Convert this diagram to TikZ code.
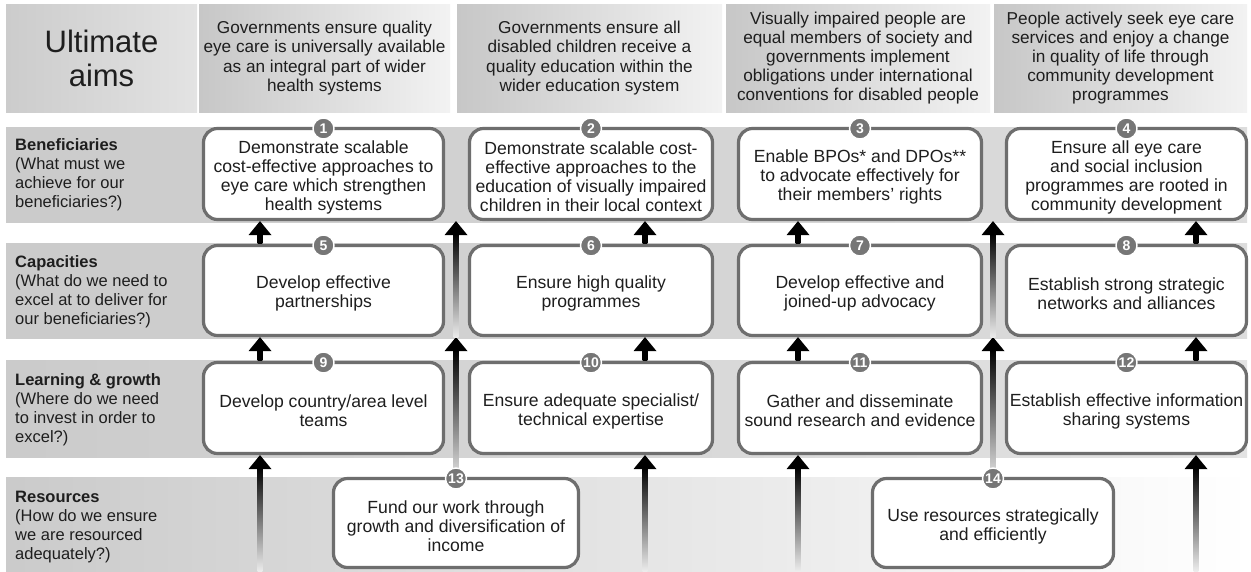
\documentclass[tikz,border=0pt]{standalone}
\usepackage{fontspec}
\setmainfont{Liberation Sans}
\usetikzlibrary{calc}
\definecolor{boxline}{HTML}{6E6E6E}
\definecolor{txt}{HTML}{1E1E1E}
\definecolor{numfill}{HTML}{767676}
\tikzset{
  box/.style={draw=boxline, line width=3.2pt, rounded corners=14pt, fill=white, align=center, text=txt,
    font=\fontsize{17.6}{19}\selectfont, inner sep=0pt},
  aimtxt/.style={align=center, text=txt, font=\fontsize{17.2}{19.2}\selectfont, inner sep=0pt},
  lab/.style={align=left, anchor=west, text=txt, font=\fontsize{16.5}{19}\selectfont, inner sep=0pt},
  num/.style={circle, fill=numfill, draw=white, line width=1.4pt, text=white,
    font=\bfseries\fontsize{14}{14}\selectfont, inner sep=0pt, minimum size=21pt},
}
\newcommand\tstr{\rule{0pt}{19pt}}
\newcommand\farrow[3]{%
  \shade[top color=black, bottom color=#3] ($(#1)+(-2.4,0)$) rectangle ($(#2)+(2.4,12)$);
  \fill ($(#2)$) -- ($(#2)+(-11.5,14)$) -- ($(#2)+(11.5,14)$) -- cycle;}
\begin{document}
\begin{tikzpicture}[x=1pt,y=-1pt]
\useasboundingbox (0,0) rectangle (1251,571);
\fill[white] (0,0) rectangle (1251,571);
% ---- Ultimate aims row
\shade[left color=gray!40, right color=gray!22] (6,4) rectangle (197,112);
\shade[left color=gray!44, right color=gray!10] (199,4) rectangle (450,112);
\shade[left color=gray!44, right color=gray!10] (457,4) rectangle (722,112);
\shade[left color=gray!44, right color=gray!10] (726,4) rectangle (990,112);
\shade[left color=gray!44, right color=gray!10] (994,4) rectangle (1247,112);
\node[aimtxt, font=\fontsize{31}{34}\selectfont] (ua) at (101.5,58) {Ultimate\\aims};
\node[aimtxt] (a1) at (324.5,58) {Governments ensure quality\\eye care is universally available\\as an integral part of wider\\health systems};
\node[aimtxt] (a2) at (589.5,58) {Governments ensure all\\disabled children receive a\\quality education within the\\wider education system};
\node[aimtxt] (a3) at (858,58) {Visually impaired people are\\equal members of society and\\governments implement\\obligations under international\\conventions for disabled people};
\node[aimtxt] (a4) at (1120.5,58) {People actively seek eye care\\services and enjoy a change\\in quality of life through\\community development\\programmes};
% ---- bands
\shade[left color=gray!41, right color=gray!27] (6,127) rectangle (1247,222);
\shade[left color=gray!41, right color=gray!27] (6,243) rectangle (1247,338);
\shade[left color=gray!41, right color=gray!22] (6,360) rectangle (1247,457);
\shade[left color=gray!41, middle color=gray!30, right color=white] (6,477) rectangle (1251,571);
% ---- row labels
\node[lab] (l1) at (15,174.5) {\textbf{Beneficiaries}\\(What must we\\achieve for our\\beneficiaries?)};
\node[lab] (l2) at (15,292) {\textbf{Capacities}\\(What do we need to\\excel at to deliver for\\our beneficiaries?)};
\node[lab] (l3) at (15,410) {\textbf{Learning \& growth}\\(Where do we need\\to invest in order to\\excel?)};
\node[lab] (l4) at (15,527) {\textbf{Resources}\\(How do we ensure\\we are resourced\\adequately?)};
% ---- boxes
\node[box, minimum width=240pt, minimum height=91pt] (b1) at (323.5,174) {\tstr Demonstrate scalable\\cost-effective approaches to\\eye care which strengthen\\health systems};
\node[box, minimum width=243pt, minimum height=91pt] (b2) at (591,174) {\tstr Demonstrate scalable cost-\\effective approaches to the\\education of visually impaired\\children in their local context};
\node[box, minimum width=243pt, minimum height=91pt] (b3) at (860,174) {\tstr Enable BPOs* and DPOs**\\to advocate effectively for\\their members' rights};
\node[box, minimum width=240pt, minimum height=91pt] (b4) at (1126.5,174) {\tstr Ensure all eye care\\and social inclusion\\programmes are rooted in\\community development};
\node[box, minimum width=240pt, minimum height=90pt] (b5) at (323.5,290.5) {\tstr Develop effective\\partnerships};
\node[box, minimum width=243pt, minimum height=90pt] (b6) at (591,290.5) {\tstr Ensure high quality\\programmes};
\node[box, minimum width=243pt, minimum height=90pt] (b7) at (860,290.5) {\tstr Develop effective and\\joined-up advocacy};
\node[box, minimum width=240pt, minimum height=90pt] (b8) at (1126.5,290.5) {\tstr Establish strong strategic\\networks and alliances};
\node[box, minimum width=240pt, minimum height=91pt] (b9) at (323.5,408) {\tstr Develop country/area level\\teams};
\node[box, minimum width=243pt, minimum height=91pt] (b10) at (591,408) {\tstr Ensure adequate specialist/\\technical expertise};
\node[box, minimum width=243pt, minimum height=91pt] (b11) at (860,408) {\tstr Gather and disseminate\\sound research and evidence};
\node[box, minimum width=240pt, minimum height=91pt] (b12) at (1126.5,408) {\tstr Establish effective information\\sharing systems};
\node[box, minimum width=245pt, minimum height=89pt] (b13) at (456,523) {\tstr Fund our work through\\growth and diversification of\\income};
\node[box, minimum width=241pt, minimum height=89pt] (b14) at (993,523) {\tstr Use resources strategically\\and efficiently};
% ---- arrow columns
\coordinate (ax1) at (260,571);
\coordinate (ax2) at (645,571);
\coordinate (ax3) at (798,571);
\coordinate (ax4) at (1196,571);
% short arrows
\foreach \c/\lo/\hi in {ax1/b5/b1, ax2/b6/b2, ax3/b7/b3, ax4/b8/b4, ax1/b9/b5, ax2/b10/b6, ax3/b11/b7, ax4/b12/b8}{
  \farrow{\lo.north -| \c}{\hi.south -| \c}{black}
}
% long arrows from the bottom
\foreach \c/\hi in {ax1/b9, ax2/b10, ax3/b11, ax4/b12}{
  \farrow{\c}{\hi.south -| \c}{gray!15}
}
% arrows from 13 and 14
\farrow{b13.north}{b5.south -| b13.north}{gray!25}
\farrow{b5.south -| b13.north}{b1.south -| b13.north}{gray!15}
\farrow{b14.north}{b7.south -| b14.north}{gray!25}
\farrow{b7.south -| b14.north}{b3.south -| b14.north}{gray!15}
% ---- number badges
\foreach \i in {1,...,14}{
  \node[num] (n\i) at ($(b\i.north)+(0,1.6)$) {\i};
}
\end{tikzpicture}
\end{document}
